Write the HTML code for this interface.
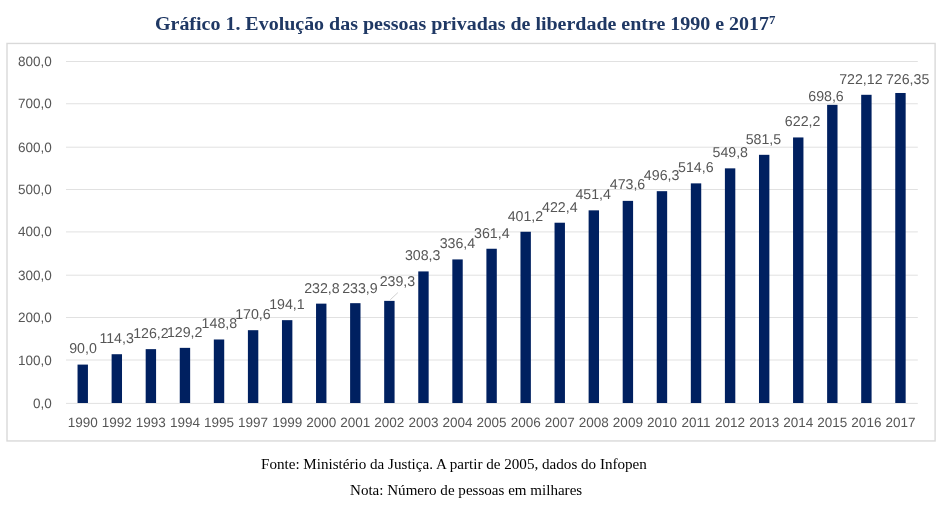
<!DOCTYPE html>
<html><head><meta charset="utf-8"><title>Gráfico 1</title>
<style>
html,body{margin:0;padding:0;background:#fff;}
body{width:943px;height:513px;position:relative;overflow:hidden;font-family:"Liberation Sans",sans-serif;}
.title{position:absolute;left:155.4px;top:12.2px;white-space:nowrap;font-family:"Liberation Serif",serif;font-weight:bold;font-size:18.67px;line-height:24px;color:#1f3864;transform-origin:0 0;transform:scaleX(1.07);}
.title sup{font-size:12px;line-height:0;vertical-align:6.4px;}
.ft{position:absolute;white-space:nowrap;font-family:"Liberation Serif",serif;font-size:14px;line-height:18px;color:#000;transform-origin:0 0;}
svg text{font-family:"Liberation Sans",sans-serif;text-rendering:geometricPrecision;}
</style></head><body>
<svg width="943" height="513" viewBox="0 0 943 513" style="position:absolute;left:0;top:0;will-change:transform" font-family="Liberation Sans, sans-serif" font-size="13.5" fill="#565656">
<rect x="7" y="43.45" width="928.1" height="397.5" fill="#fff" stroke="#d9d9d9" stroke-width="1.4"/>
<line x1="66.0" x2="917.8" y1="403.40" y2="403.40" stroke="#e1e1e1" stroke-width="1"/>
<text x="51.9" y="407.95" text-anchor="end">0,0</text>
<line x1="66.0" x2="917.8" y1="360.00" y2="360.00" stroke="#e1e1e1" stroke-width="1"/>
<text x="51.9" y="364.55" text-anchor="end">100,0</text>
<line x1="66.0" x2="917.8" y1="317.50" y2="317.50" stroke="#e1e1e1" stroke-width="1"/>
<text x="51.9" y="322.05" text-anchor="end">200,0</text>
<line x1="66.0" x2="917.8" y1="275.20" y2="275.20" stroke="#e1e1e1" stroke-width="1"/>
<text x="51.9" y="279.75" text-anchor="end">300,0</text>
<line x1="66.0" x2="917.8" y1="231.90" y2="231.90" stroke="#e1e1e1" stroke-width="1"/>
<text x="51.9" y="236.45" text-anchor="end">400,0</text>
<line x1="66.0" x2="917.8" y1="189.50" y2="189.50" stroke="#e1e1e1" stroke-width="1"/>
<text x="51.9" y="194.05" text-anchor="end">500,0</text>
<line x1="66.0" x2="917.8" y1="147.20" y2="147.20" stroke="#e1e1e1" stroke-width="1"/>
<text x="51.9" y="151.75" text-anchor="end">600,0</text>
<line x1="66.0" x2="917.8" y1="103.75" y2="103.75" stroke="#e1e1e1" stroke-width="1"/>
<text x="51.9" y="108.30" text-anchor="end">700,0</text>
<line x1="66.0" x2="917.8" y1="61.50" y2="61.50" stroke="#e1e1e1" stroke-width="1"/>
<text x="51.9" y="66.05" text-anchor="end">800,0</text>
<line x1="390.3" y1="299.7" x2="397.9" y2="292.6" stroke="#c4c4c4" stroke-width="0.8"/>
<rect x="77.54" y="364.59" width="10.4" height="38.41" fill="#002060"/>
<text x="82.74" y="426.9" text-anchor="middle">1990</text>
<text transform="translate(83.00,353.30) scale(1.0,1)" font-size="14.2" text-anchor="middle">90,0</text>
<rect x="111.61" y="354.22" width="10.4" height="48.78" fill="#002060"/>
<text x="116.81" y="426.9" text-anchor="middle">1992</text>
<text transform="translate(116.60,342.90) scale(1.0,1)" font-size="14.2" text-anchor="middle">114,3</text>
<rect x="145.68" y="349.14" width="10.4" height="53.86" fill="#002060"/>
<text x="150.88" y="426.9" text-anchor="middle">1993</text>
<text transform="translate(150.95,338.40) scale(1.0,1)" font-size="14.2" text-anchor="middle">126,2</text>
<rect x="179.75" y="347.86" width="10.4" height="55.14" fill="#002060"/>
<text x="184.95" y="426.9" text-anchor="middle">1994</text>
<text transform="translate(184.70,337.10) scale(1.0,1)" font-size="14.2" text-anchor="middle">129,2</text>
<rect x="213.82" y="339.49" width="10.4" height="63.51" fill="#002060"/>
<text x="219.02" y="426.9" text-anchor="middle">1995</text>
<text transform="translate(219.35,328.00) scale(1.0,1)" font-size="14.2" text-anchor="middle">148,8</text>
<rect x="247.90" y="330.19" width="10.4" height="72.81" fill="#002060"/>
<text x="253.10" y="426.9" text-anchor="middle">1997</text>
<text transform="translate(252.95,319.00) scale(1.0,1)" font-size="14.2" text-anchor="middle">170,6</text>
<rect x="281.97" y="320.16" width="10.4" height="82.84" fill="#002060"/>
<text x="287.17" y="426.9" text-anchor="middle">1999</text>
<text transform="translate(286.95,309.10) scale(1.0,1)" font-size="14.2" text-anchor="middle">194,1</text>
<rect x="316.04" y="303.64" width="10.4" height="99.36" fill="#002060"/>
<text x="321.24" y="426.9" text-anchor="middle">2000</text>
<text transform="translate(321.90,292.90) scale(1.0,1)" font-size="14.2" text-anchor="middle">232,8</text>
<rect x="350.11" y="303.17" width="10.4" height="99.83" fill="#002060"/>
<text x="355.31" y="426.9" text-anchor="middle">2001</text>
<text transform="translate(359.90,292.60) scale(1.0,1)" font-size="14.2" text-anchor="middle">233,9</text>
<rect x="384.18" y="300.87" width="10.4" height="102.13" fill="#002060"/>
<text x="389.38" y="426.9" text-anchor="middle">2002</text>
<text transform="translate(397.40,286.30) scale(1.0,1)" font-size="14.2" text-anchor="middle">239,3</text>
<rect x="418.26" y="271.42" width="10.4" height="131.58" fill="#002060"/>
<text x="423.46" y="426.9" text-anchor="middle">2003</text>
<text transform="translate(422.70,260.20) scale(1.0,1)" font-size="14.2" text-anchor="middle">308,3</text>
<rect x="452.33" y="259.42" width="10.4" height="143.58" fill="#002060"/>
<text x="457.53" y="426.9" text-anchor="middle">2004</text>
<text transform="translate(457.40,247.90) scale(1.0,1)" font-size="14.2" text-anchor="middle">336,4</text>
<rect x="486.40" y="248.75" width="10.4" height="154.25" fill="#002060"/>
<text x="491.60" y="426.9" text-anchor="middle">2005</text>
<text transform="translate(491.80,237.50) scale(1.0,1)" font-size="14.2" text-anchor="middle">361,4</text>
<rect x="520.47" y="231.77" width="10.4" height="171.23" fill="#002060"/>
<text x="525.67" y="426.9" text-anchor="middle">2006</text>
<text transform="translate(525.40,220.50) scale(1.0,1)" font-size="14.2" text-anchor="middle">401,2</text>
<rect x="554.54" y="222.72" width="10.4" height="180.28" fill="#002060"/>
<text x="559.74" y="426.9" text-anchor="middle">2007</text>
<text transform="translate(559.80,211.90) scale(1.0,1)" font-size="14.2" text-anchor="middle">422,4</text>
<rect x="588.62" y="210.34" width="10.4" height="192.66" fill="#002060"/>
<text x="593.82" y="426.9" text-anchor="middle">2008</text>
<text transform="translate(593.20,198.90) scale(1.0,1)" font-size="14.2" text-anchor="middle">451,4</text>
<rect x="622.69" y="200.87" width="10.4" height="202.13" fill="#002060"/>
<text x="627.89" y="426.9" text-anchor="middle">2009</text>
<text transform="translate(627.50,189.30) scale(1.0,1)" font-size="14.2" text-anchor="middle">473,6</text>
<rect x="656.76" y="191.18" width="10.4" height="211.82" fill="#002060"/>
<text x="661.96" y="426.9" text-anchor="middle">2010</text>
<text transform="translate(661.60,179.90) scale(1.0,1)" font-size="14.2" text-anchor="middle">496,3</text>
<rect x="690.83" y="183.37" width="10.4" height="219.63" fill="#002060"/>
<text x="696.03" y="426.9" text-anchor="middle">2011</text>
<text transform="translate(695.80,171.80) scale(1.0,1)" font-size="14.2" text-anchor="middle">514,6</text>
<rect x="724.90" y="168.35" width="10.4" height="234.65" fill="#002060"/>
<text x="730.10" y="426.9" text-anchor="middle">2012</text>
<text transform="translate(730.25,157.40) scale(1.0,1)" font-size="14.2" text-anchor="middle">549,8</text>
<rect x="758.98" y="154.82" width="10.4" height="248.18" fill="#002060"/>
<text x="764.18" y="426.9" text-anchor="middle">2013</text>
<text transform="translate(763.40,143.50) scale(1.0,1)" font-size="14.2" text-anchor="middle">581,5</text>
<rect x="793.05" y="137.45" width="10.4" height="265.55" fill="#002060"/>
<text x="798.25" y="426.9" text-anchor="middle">2014</text>
<text transform="translate(802.60,126.30) scale(1.0,1)" font-size="14.2" text-anchor="middle">622,2</text>
<rect x="827.12" y="104.84" width="10.4" height="298.16" fill="#002060"/>
<text x="832.32" y="426.9" text-anchor="middle">2015</text>
<text transform="translate(826.00,100.50) scale(1.0,1)" font-size="14.2" text-anchor="middle">698,6</text>
<rect x="861.19" y="94.80" width="10.4" height="308.20" fill="#002060"/>
<text x="866.39" y="426.9" text-anchor="middle">2016</text>
<text transform="translate(860.90,83.70) scale(1.0,1)" font-size="14.2" text-anchor="middle">722,12</text>
<rect x="895.26" y="92.99" width="10.4" height="310.01" fill="#002060"/>
<text x="900.46" y="426.9" text-anchor="middle">2017</text>
<text transform="translate(907.60,83.70) scale(1.0,1)" font-size="14.2" text-anchor="middle">726,35</text>
</svg>
<div class="title">Gráfico 1. Evolução das pessoas privadas de liberdade entre 1990 e 2017<sup>7</sup></div>
<div class="ft" style="left:261.4px;top:456px;transform:scaleX(1.0787)">Fonte: Ministério da Justiça. A partir de 2005, dados do Infopen</div>
<div class="ft" style="left:350.2px;top:482px;transform:scaleX(1.076)">Nota: Número de pessoas em milhares</div>
</body></html>
